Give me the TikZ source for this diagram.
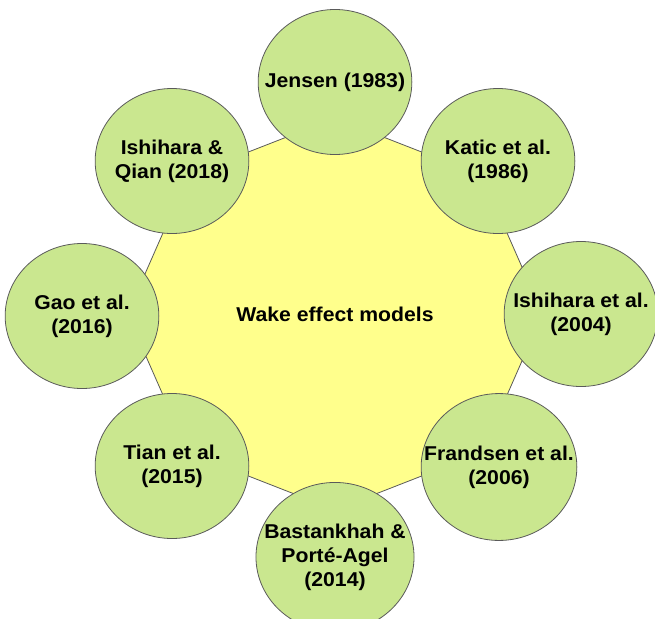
\documentclass[tikz,border=0pt]{standalone}
\usepackage{fontspec}
\setmainfont{Liberation Sans}
\usetikzlibrary{shapes.geometric}
\definecolor{hubyellow}{RGB}{255,255,140}
\definecolor{modelgreen}{RGB}{202,231,143}
\definecolor{rimgray}{RGB}{90,90,90}

\begin{document}
\begin{tikzpicture}[x=1pt,y=-1pt]
		\tikzstyle{every node}+=[inner sep=0pt, outer sep=0pt, align=center, font=\bfseries\fontsize{20}{24}\selectfont]
		\tikzstyle{modelcircle}=[circle, draw=rimgray, line width=0.8pt, fill=modelgreen, minimum size=145pt, xscale=1.06]
		\tikzstyle{hubshape}=[regular polygon, regular polygon sides=16, draw=rimgray, line width=0.8pt, fill=hubyellow, minimum size=369pt, xscale=1.06]
		\useasboundingbox (0,0) rectangle (655,618);
		\node [hubshape] (wake) at (335,314) {Wake effect models};
		\node [modelcircle] (jensen) at (335,82) {Jensen (1983)};
		\node [modelcircle] (katic) at (498,161) {Katic et al.\\(1986)};
		\node [modelcircle] (ishihara) at (581,314) {Ishihara et al.\\(2004)};
		\node [modelcircle] (frandsen) at (499,467) {Frandsen et al.\\(2006)};
		\node [modelcircle] (bastankhah) at (335,557) {Bastankhah \&\\Porté-Agel\\(2014)};
		\node [modelcircle] (tian) at (172,466) {Tian et al.\\(2015)};
		\node [modelcircle] (gao) at (82,316) {Gao et al.\\(2016)};
		\node [modelcircle] (qian) at (172,161) {Ishihara \&\\Qian (2018)};
\end{tikzpicture}
\end{document}
